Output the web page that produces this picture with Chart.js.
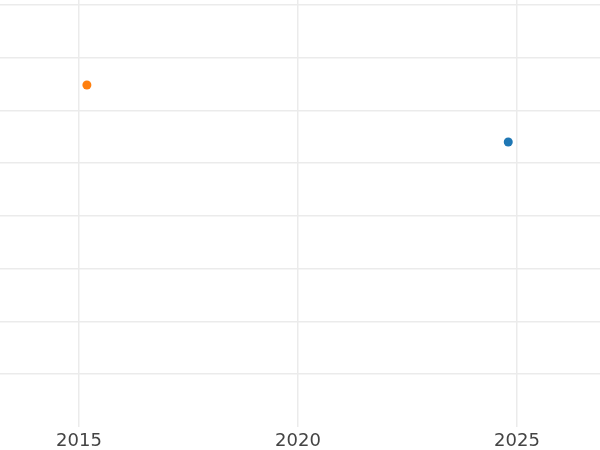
<!DOCTYPE html>
<html>
<head>
<meta charset="utf-8">
<script src="https://cdn.jsdelivr.net/npm/chart.js@4/dist/chart.umd.min.js"></script>
<style>
  html, body { margin: 0; padding: 0; background: #ffffff; }
  #wrap { width: 600px; height: 450px; }
</style>
</head>
<body>
<div id="wrap"><canvas id="c"></canvas></div>
<script>
// Data
const seriesNames = ["A", "B"];
const seriesYears = [[2024.8], [2015.18]];
const seriesValues = [[5.4], [6.48]];
const seriesColors = ["#1f77b4", "#ff7f0e"];
const xTickValues = [2015, 2020, 2025];
const yTickValues = [1, 2, 3, 4, 5, 6, 7, 8];
const xRange = [2013.196, 2026.895];
const yRange = [0, 8.09];

const datasets = seriesNames.map((name, i) => ({
  label: name,
  data: seriesYears[i].map((x, j) => ({ x: x, y: seriesValues[i][j] })),
  backgroundColor: seriesColors[i],
  borderColor: seriesColors[i],
  pointRadius: 4.5,
  pointHoverRadius: 4.5,
  borderWidth: 0
}));

const chart = new Chart(document.getElementById("c"), {
  type: "scatter",
  data: { datasets: datasets },
  options: {
    responsive: true,
    maintainAspectRatio: false,
    animation: false,
    layout: { autoPadding: false, padding: { left: 0, right: 0, top: 0, bottom: 0 } },
    plugins: { legend: { display: false }, tooltip: { enabled: false } },
    scales: {
      x: {
        type: "linear",
        min: xRange[0],
        max: xRange[1],
        afterBuildTicks: (axis) => { axis.ticks = xTickValues.map(v => ({ value: v })); },
        afterFit: (axis) => { axis.paddingLeft = 0; axis.paddingRight = 0; axis.height = 23; },
        grid: { color: "#ebebeb", lineWidth: 1.5, drawTicks: false },
        border: { display: false },
        ticks: {
          padding: 4,
          color: "#444444",
          font: { family: "DejaVu Sans", size: 18 },
          callback: (v) => String(v),
          maxRotation: 0
        }
      },
      y: {
        type: "linear",
        min: yRange[0],
        max: yRange[1],
        afterBuildTicks: (axis) => { axis.ticks = yTickValues.map(v => ({ value: v })); },
        afterFit: (axis) => { axis.width = 0; axis.paddingTop = 0; axis.paddingBottom = 0; },
        grid: { color: "#ebebeb", lineWidth: 1.5, drawTicks: false },
        border: { display: false },
        ticks: { display: false }
      }
    }
  }
});
</script>
</body>
</html>
